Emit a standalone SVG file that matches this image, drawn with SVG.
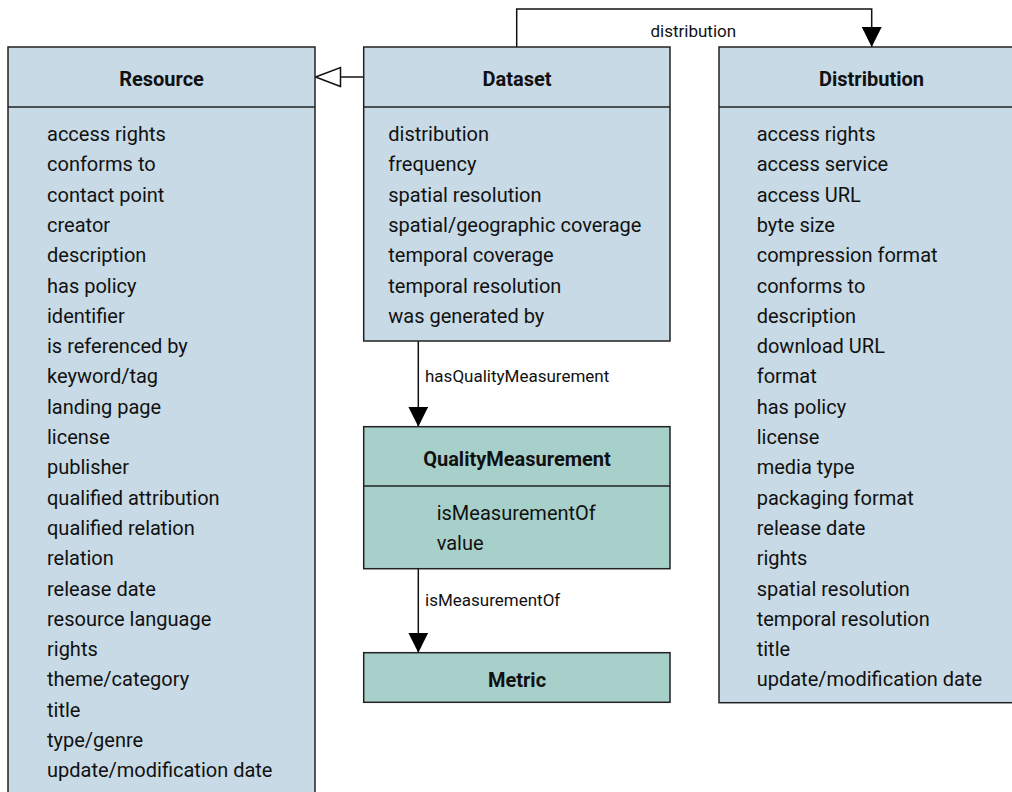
<svg xmlns="http://www.w3.org/2000/svg" width="1012" height="792" viewBox="0 0 1012 792">
<style>
.blue{fill:#c8dae6;stroke:#222;stroke-width:1.5}
.teal{fill:#a8d0ca;stroke:#222;stroke-width:1.5}
.sep{stroke:#222;stroke-width:1.5}
.hd{font-family:Roboto,"Liberation Sans",sans-serif;font-size:20px;font-weight:bold;fill:#111;text-anchor:middle}
.it{font-family:Roboto,"Liberation Sans",sans-serif;font-size:20px;fill:#111}
.lb{font-family:Roboto,"Liberation Sans",sans-serif;font-size:17px;fill:#111}
.ln{fill:none;stroke:#111;stroke-width:1.5}
</style>
<defs>
<marker id="arr" markerWidth="20" markerHeight="20" refX="20" refY="10" orient="auto" markerUnits="userSpaceOnUse">
<path d="M0,0 L20,10 L0,20 Z" fill="#000"/>
</marker>
<marker id="gen" markerWidth="28" markerHeight="22" refX="26" refY="11" orient="auto" markerUnits="userSpaceOnUse">
<path d="M1,1.5 L26,11 L1,20.5 Z" fill="#fff" stroke="#111" stroke-width="1.5"/>
</marker>
</defs>
<g id="connectors">
<path class="ln" d="M363.7,77 L315.5,77" marker-end="url(#gen)"/>
<path class="ln" d="M516.7,47 L516.7,9 L871.7,9 L871.7,47" marker-end="url(#arr)"/>
<text class="lb" x="650.5" y="36.5">distribution</text>
<path class="ln" d="M418.3,341 L418.3,426.7" marker-end="url(#arr)"/>
<text class="lb" x="425" y="381.5">hasQualityMeasurement</text>
<path class="ln" d="M418.3,569 L418.3,652.7" marker-end="url(#arr)"/>
<text class="lb" x="425" y="605.5">isMeasurementOf</text>
</g>
<g id="resource">
<rect class="blue" x="8" y="47" width="307" height="760"/>
<line class="sep" x1="8" y1="107" x2="315" y2="107"/>
<text class="hd" x="161.5" y="86">Resource</text>
<text class="it" x="47">
<tspan x="47" y="141">access rights</tspan>
<tspan x="47" y="171.3">conforms to</tspan>
<tspan x="47" y="201.6">contact point</tspan>
<tspan x="47" y="231.9">creator</tspan>
<tspan x="47" y="262.2">description</tspan>
<tspan x="47" y="292.5">has policy</tspan>
<tspan x="47" y="322.8">identifier</tspan>
<tspan x="47" y="353.1">is referenced by</tspan>
<tspan x="47" y="383.4">keyword/tag</tspan>
<tspan x="47" y="413.7">landing page</tspan>
<tspan x="47" y="444">license</tspan>
<tspan x="47" y="474.3">publisher</tspan>
<tspan x="47" y="504.6">qualified attribution</tspan>
<tspan x="47" y="534.9">qualified relation</tspan>
<tspan x="47" y="565.2">relation</tspan>
<tspan x="47" y="595.5">release date</tspan>
<tspan x="47" y="625.8">resource language</tspan>
<tspan x="47" y="656.1">rights</tspan>
<tspan x="47" y="686.4">theme/category</tspan>
<tspan x="47" y="716.7">title</tspan>
<tspan x="47" y="747">type/genre</tspan>
<tspan x="47" y="777.3">update/modification date</tspan>
</text>
</g>
<g id="dataset">
<rect class="blue" x="363.7" y="47" width="306.3" height="294"/>
<line class="sep" x1="363.7" y1="107" x2="670" y2="107"/>
<text class="hd" x="517" y="86">Dataset</text>
<text class="it">
<tspan x="388.3" y="141">distribution</tspan>
<tspan x="388.3" y="171.3">frequency</tspan>
<tspan x="388.3" y="201.6">spatial resolution</tspan>
<tspan x="388.3" y="231.9">spatial/geographic coverage</tspan>
<tspan x="388.3" y="262.2">temporal coverage</tspan>
<tspan x="388.3" y="292.5">temporal resolution</tspan>
<tspan x="388.3" y="322.8">was generated by</tspan>
</text>
</g>
<g id="distribution">
<rect class="blue" x="719" y="47" width="305" height="655.7"/>
<line class="sep" x1="719" y1="107" x2="1024" y2="107"/>
<text class="hd" x="871.5" y="86">Distribution</text>
<text class="it">
<tspan x="756.7" y="141">access rights</tspan>
<tspan x="756.7" y="171.3">access service</tspan>
<tspan x="756.7" y="201.6">access URL</tspan>
<tspan x="756.7" y="231.9">byte size</tspan>
<tspan x="756.7" y="262.2">compression format</tspan>
<tspan x="756.7" y="292.5">conforms to</tspan>
<tspan x="756.7" y="322.8">description</tspan>
<tspan x="756.7" y="353.1">download URL</tspan>
<tspan x="756.7" y="383.4">format</tspan>
<tspan x="756.7" y="413.7">has policy</tspan>
<tspan x="756.7" y="444">license</tspan>
<tspan x="756.7" y="474.3">media type</tspan>
<tspan x="756.7" y="504.6">packaging format</tspan>
<tspan x="756.7" y="534.9">release date</tspan>
<tspan x="756.7" y="565.2">rights</tspan>
<tspan x="756.7" y="595.5">spatial resolution</tspan>
<tspan x="756.7" y="625.8">temporal resolution</tspan>
<tspan x="756.7" y="656.1">title</tspan>
<tspan x="756.7" y="686.4">update/modification date</tspan>
</text>
</g>
<g id="qualitymeasurement">
<rect class="teal" x="363.7" y="426.7" width="306.3" height="142"/>
<line class="sep" x1="363.7" y1="486" x2="670" y2="486"/>
<text class="hd" x="517" y="465.7">QualityMeasurement</text>
<text class="it">
<tspan x="436.7" y="520">isMeasurementOf</tspan>
<tspan x="436.7" y="550">value</tspan>
</text>
</g>
<g id="metric">
<rect class="teal" x="363.7" y="652.7" width="306.3" height="49.6"/>
<text class="hd" x="517" y="686.5">Metric</text>
</g>
</svg>
